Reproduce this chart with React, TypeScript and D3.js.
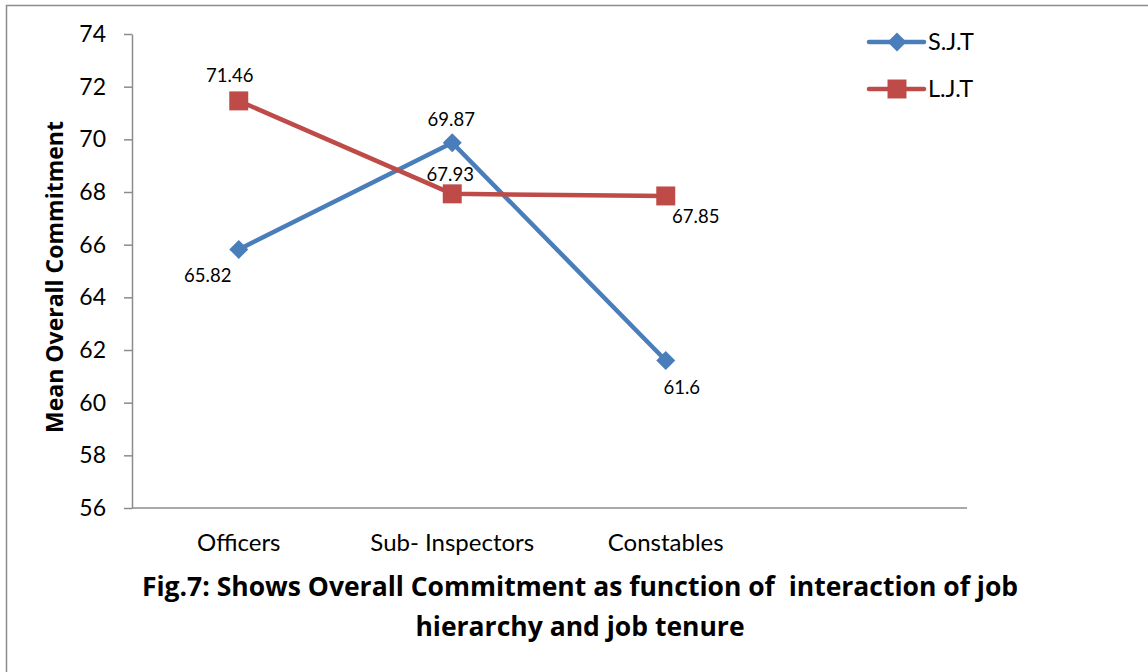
import React, { useEffect, useRef } from 'react';
import * as d3 from 'd3';

const categories = ['Officers', 'Sub- Inspectors', 'Constables'];
const sjtValues = [65.82, 69.87, 61.6];
const ljtValues = [71.46, 67.93, 67.85];
const seriesNames = ['S.J.T', 'L.J.T'];
const yTicks = [56, 58, 60, 62, 64, 66, 68, 70, 72, 74];
const titleLines = [
  'Fig.7: Shows Overall Commitment as function of  interaction of job',
  'hierarchy and job tenure',
];
const yAxisTitle = 'Mean Overall Commitment';

// label offsets (dx, dy) from each point, like Excel put them
const sjtLabelOffsets = [[-31, 33], [-1, -17], [16, 33]];
const ljtLabelOffsets = [[-9, -19], [-2, -13], [30, 27]];

const FONT = 'Lato, "Open Sans", sans-serif';
const BOLD_FONT = '"Open Sans", Lato, sans-serif';
const BLUE = '#4A7EBB';
const RED = '#BE4B48';

export default function App() {
  const ref = useRef<SVGSVGElement | null>(null);

  useEffect(() => {
    if (!ref.current) return;
    const svg = d3.select(ref.current);
    svg.selectAll('*').remove();

    const left = 132;
    const right = 967;
    const top = 34;
    const bottom = 508;
    const step = 213.5;

    const x = d3
      .scalePoint<string>()
      .domain(categories)
      .range([left + step / 2, left + step / 2 + step * 2]);
    const y = d3.scaleLinear().domain([56, 74]).range([bottom, top]);

    // outer frame
    svg
      .append('rect')
      .attr('x', 6.5)
      .attr('y', 5.5)
      .attr('width', 1200)
      .attr('height', 800)
      .attr('fill', 'white')
      .attr('stroke', '#8c8c8c')
      .attr('stroke-width', 1.5);

    // y axis
    const yAxis = svg
      .append('g')
      .attr('transform', `translate(${left},0)`)
      .call(d3.axisLeft(y).tickValues(yTicks).tickSize(8).tickPadding(18).tickSizeOuter(0));
    yAxis.select('.domain').attr('stroke', '#8c8c8c').attr('stroke-width', 1.5);
    yAxis.selectAll('.tick line').attr('stroke', '#8c8c8c').attr('stroke-width', 1.5);
    yAxis
      .selectAll('.tick text')
      .attr('font-family', FONT)
      .attr('font-size', 23)
      .attr('fill', '#000');

    // x axis line
    svg
      .append('line')
      .attr('x1', left)
      .attr('x2', right)
      .attr('y1', bottom)
      .attr('y2', bottom)
      .attr('stroke', '#8c8c8c')
      .attr('stroke-width', 1.5);

    svg
      .append('g')
      .selectAll('text')
      .data(categories)
      .join('text')
      .attr('x', (d) => x(d)!)
      .attr('y', bottom + 43)
      .attr('text-anchor', 'middle')
      .attr('font-family', FONT)
      .attr('font-size', 24)
      .text((d) => d);

    // y axis title
    svg
      .append('text')
      .attr('transform', `translate(63,${(top + bottom) / 2 + 6}) rotate(-90)`)
      .attr('text-anchor', 'middle')
      .attr('font-family', BOLD_FONT)
      .attr('font-weight', 'bold')
      .attr('font-size', 23)
      .text(yAxisTitle);

    const line = d3
      .line<number>()
      .x((_, i) => x(categories[i])!)
      .y((d) => y(d));

    const series = [
      { name: seriesNames[0], values: sjtValues, color: BLUE, marker: 'diamond', offs: sjtLabelOffsets },
      { name: seriesNames[1], values: ljtValues, color: RED, marker: 'square', offs: ljtLabelOffsets },
    ];

    const diamond = d3.symbol(d3.symbolDiamond2, 230)();
    const square = d3.symbol(d3.symbolSquare, 360)();

    series.forEach((s) => {
      svg
        .append('path')
        .datum(s.values)
        .attr('d', line)
        .attr('fill', 'none')
        .attr('stroke', s.color)
        .attr('stroke-width', 4.5)
        .attr('stroke-linejoin', 'round');

      svg
        .append('g')
        .selectAll('path')
        .data(s.values)
        .join('path')
        .attr('transform', (d, i) => `translate(${x(categories[i])},${y(d)})`)
        .attr('d', s.marker === 'diamond' ? diamond : square)
        .attr('fill', s.color);

      svg
        .append('g')
        .selectAll('text')
        .data(s.values)
        .join('text')
        .attr('x', (_, i) => x(categories[i])! + s.offs[i][0])
        .attr('y', (d, i) => y(d) + s.offs[i][1])
        .attr('text-anchor', 'middle')
        .attr('font-family', FONT)
        .attr('font-size', 18.5)
        .text((d) => String(d));
    });

    // legend
    series.forEach((s, i) => {
      const ly = 42 + i * 47;
      const g = svg.append('g').attr('transform', `translate(869,${ly})`);
      g.append('line')
        .attr('x1', 0)
        .attr('x2', 55)
        .attr('stroke', s.color)
        .attr('stroke-width', 4.5)
        .attr('stroke-linecap', 'round');
      g.append('path')
        .attr('transform', 'translate(28,0)')
        .attr('d', s.marker === 'diamond' ? diamond : square)
        .attr('fill', s.color);
      g.append('text')
        .attr('x', 59)
        .attr('y', 8)
        .attr('font-family', FONT)
        .attr('font-size', 23.5)
        .text(s.name);
    });

    // caption
    svg
      .append('g')
      .selectAll('text')
      .data(titleLines)
      .join('text')
      .attr('x', 580)
      .attr('y', (_, i) => 596 + i * 40)
      .attr('text-anchor', 'middle')
      .attr('font-family', BOLD_FONT)
      .attr('font-weight', 'bold')
      .attr('font-size', 26.5)
      .style('white-space', 'pre')
      .text((d) => d);
  }, []);

  return (
    <svg
      ref={ref}
      width={1148}
      height={672}
      style={{ position: 'absolute', left: 0, top: 0, background: 'white' }}
    />
  );
}
